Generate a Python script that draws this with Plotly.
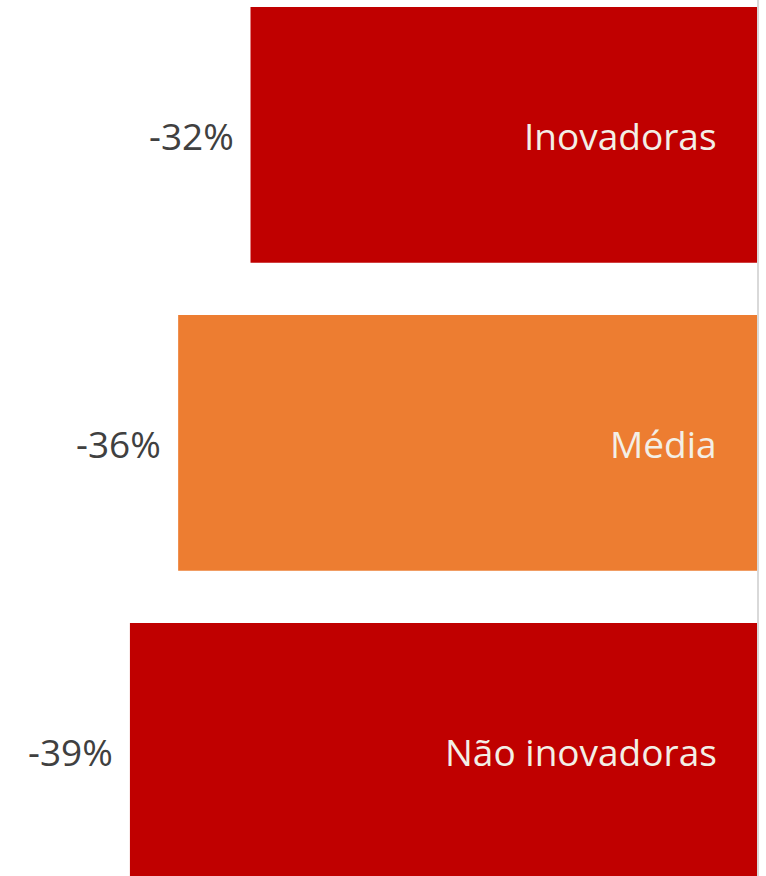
import plotly.graph_objects as go

categories = ["Inovadoras", "Média", "Não inovadoras"]
values = [-31.5, -36.0, -39.0]
value_labels = ["-32%", "-36%", "-39%"]
bar_colors = ["#C00000", "#ED7D31", "#C00000"]

fig = go.Figure()
fig.add_trace(go.Bar(
    x=values, y=categories, orientation="h",
    marker=dict(color=bar_colors, line=dict(width=0)),
    width=0.83, hoverinfo="skip", showlegend=False,
))

for cat, val, lab in zip(categories, values, value_labels):
    fig.add_annotation(x=val, y=cat, text=lab, showarrow=False,
                       xanchor="right", yanchor="middle", xshift=-15, yshift=-1,
                       font=dict(family="Open Sans", size=37, color="#404040"))
    fig.add_annotation(x=0, y=cat, text=cat, showarrow=False,
                       xanchor="right", yanchor="middle", xshift=-38, yshift=-1,
                       font=dict(family="Open Sans", size=37, color="#F3EFE6"))

fig.update_layout(
    width=766, height=876, autosize=False,
    margin=dict(l=0, r=9, t=0, b=0),
    paper_bgcolor="white", plot_bgcolor="white",
    xaxis=dict(range=[-47.08, 0], showgrid=False, zeroline=False,
               showticklabels=False, showline=False, ticks=""),
    yaxis=dict(range=[2.406, -0.438], showgrid=False, zeroline=False,
               showticklabels=False, ticks="", side="right",
               showline=True, linecolor="#D9D9D9", linewidth=2),
)

fig.write_html("out.html", config={"responsive": False, "displayModeBar": False},
               post_script="document.body.style.margin='0px';document.body.style.overflow='hidden';")
